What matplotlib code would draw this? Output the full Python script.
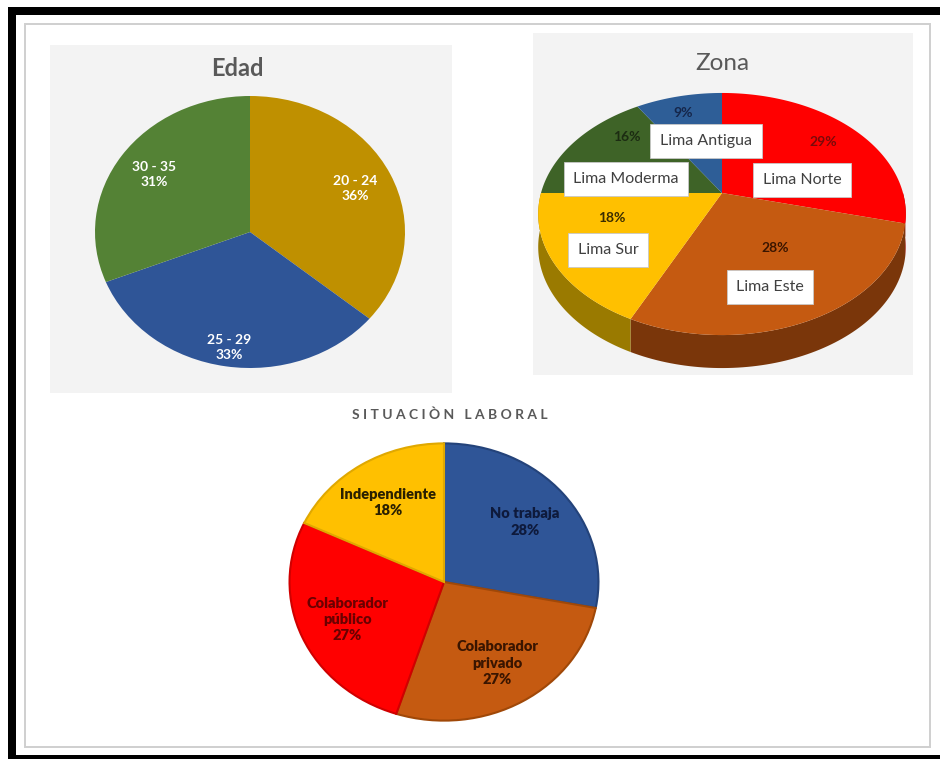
import numpy as np
import matplotlib.pyplot as plt
from matplotlib.patches import Rectangle

W, H = 940, 759

# --- datos ---
edad_labels = ['20 - 24', '25 - 29', '30 - 35']
edad_pct = [36, 33, 31]

zona_labels = ['Lima Norte', 'Lima Este', 'Lima Sur', 'Lima Moderma', 'Lima Antigua']
zona_pct = [29, 28, 18, 16, 9]

lab_labels = ['No trabaja', 'Colaborador\nprivado', 'Colaborador\npúblico', 'Independiente']
lab_pct = [28, 27, 27, 18]

# --- colores ---
edad_colors = ['#BF9000', '#2F5597', '#548235']
zona_colors = ['#FF0000', '#C55A11', '#FFC000', '#3E6327', '#2E5E97']
zona_side = ['#A80000', '#7A360A', '#9A7A00', '#2A4419', '#1E3F66']
zona_txt = ['#7A0A0A', '#3A1500', '#3A2C00', '#1C2C12', '#15264A']
lab_colors = ['#2F5597', '#C55A11', '#FF0000', '#FFC000']
lab_edges = ['#24437A', '#A04808', '#D00000', '#E0A800']
lab_txt = ['#0E1A3C', '#3A1500', '#6A0000', '#2A2000']

TITLE = '#595959'
SANS = ['Lato', 'DejaVu Sans']

fig = plt.figure(figsize=(W / 100, H / 100), dpi=100)


def px_axes(x0, y0, x1, y1):
    # ejes ubicados en pixeles (origen arriba a la izquierda)
    return fig.add_axes([x0 / W, 1 - y1 / H, (x1 - x0) / W, (y1 - y0) / H])


# marco y paneles
bg = px_axes(0, 0, W, H)
bg.set_xlim(0, W)
bg.set_ylim(H, 0)
bg.axis('off')
bg.add_patch(Rectangle((8, 7), W - 8, 8, color='black', lw=0))
bg.add_patch(Rectangle((8, 7), 8, H - 7, color='black', lw=0))
bg.add_patch(Rectangle((8, 755), W - 8, 4, color='black', lw=0))
bg.add_patch(Rectangle((25, 24), 905, 723, fill=False, ec='#CFCFCF', lw=1.4))
bg.add_patch(Rectangle((50, 45), 402, 348, color='#F3F3F3', lw=0))
bg.add_patch(Rectangle((533, 33), 380, 342, color='#F3F3F3', lw=0))

# ---------------- Edad ----------------
bg.text(237, 68, 'Edad', ha='center', va='center', fontsize=17,
        fontweight='bold', color=TITLE, family=SANS)

ax1 = px_axes(95, 96, 405, 368)
w1, _ = ax1.pie(edad_pct, colors=edad_colors, startangle=90, counterclock=False,
                wedgeprops=dict(lw=0))
ax1.set_aspect('auto')
ax1.set_xlim(-1, 1)
ax1.set_ylim(-1, 1)
ax1.axis('off')
edad_dist = [0.75, 0.86, 0.75]
for w, name, p, r in zip(w1, edad_labels, edad_pct, edad_dist):
    a = np.deg2rad((w.theta1 + w.theta2) / 2)
    ax1.text(r * np.cos(a), r * np.sin(a), f'{name}\n{p}%', ha='center', va='center',
             color='white', fontsize=10, fontweight='bold', family=SANS,
             linespacing=1.35)

# ---------------- Zona (3D) ----------------
bg.text(722, 63, 'Zona', ha='center', va='center', fontsize=17.5,
        color=TITLE, family=SANS)

zax = px_axes(533, 33, 913, 375)
zax.set_xlim(533, 913)
zax.set_ylim(375, 33)
zax.axis('off')

CX, CY, SX, SY, K, DEPTH = 722, 193, 181, 117.4, 0.1736, 33


def rim(t):
    # borde del disco visto en perspectiva
    u, v = np.cos(t), np.sin(t)
    d = 1 + K * v
    return CX + SX * u / d, CY - SY * v / d


edges = 90 - 360 * np.concatenate([[0], np.cumsum(zona_pct)]) / sum(zona_pct)
for i in range(len(zona_pct)):
    a0, a1 = edges[i], edges[i + 1]
    # cara lateral (solo la mitad delantera)
    lo, hi = max(a1, -180), min(a0, 0)
    if hi > lo:
        t = np.deg2rad(np.linspace(hi, lo, 80))
        x, y = rim(t)
        zax.fill(np.r_[x, x[::-1]], np.r_[y, y[::-1] + DEPTH],
                 color=zona_side[i], lw=0, zorder=1)
    t = np.deg2rad(np.linspace(a0, a1, 120))
    x, y = rim(t)
    zax.fill(np.r_[CX, x], np.r_[CY, y], color=zona_colors[i], lw=0, zorder=2)

pct_off = [(101, -51), (53, 55), (-110, 25), (-95, -56), (-39, -80)]
box_off = [(80, -13), (48, 94), (-114, 57), (-96, -14), (-16, -52)]
for i, (name, p) in enumerate(zip(zona_labels, zona_pct)):
    dx, dy = pct_off[i]
    zax.text(CX + dx, CY + dy, f'{p}%', ha='center', va='center', fontsize=10,
             fontweight='bold', color=zona_txt[i], family=SANS, zorder=4)
    dx, dy = box_off[i]
    zax.text(CX + dx, CY + dy, name, ha='center', va='center', fontsize=11.5,
             color='#404040', family=SANS, zorder=5,
             bbox=dict(boxstyle='square,pad=0.6', fc='white', ec='#C8C8C8', lw=0.6))

# ---------------- Situacion laboral ----------------
bg.text(450, 415, 'S I T U A C I Ò N   L A B O R A L', ha='center', va='center',
        fontsize=10, fontweight='bold', color=TITLE, family=SANS)

ax3 = px_axes(288, 442, 600, 722)
w3, t3 = ax3.pie(lab_pct, colors=lab_colors, startangle=90, counterclock=False,
                 labels=[f'{n}\n{p}%' for n, p in zip(lab_labels, lab_pct)],
                 labeldistance=0.68,
                 textprops=dict(ha='center', va='center', fontsize=10.5,
                                fontweight='heavy', family=SANS, linespacing=1.3))
for w, ec in zip(w3, lab_edges):
    w.set_edgecolor(ec)
    w.set_linewidth(1.5)
for t, c in zip(t3, lab_txt):
    t.set_color(c)
ax3.set_aspect('auto')
ax3.set_xlim(-1.01, 1.01)
ax3.set_ylim(-1.01, 1.01)
ax3.axis('off')

fig.savefig('out.png', dpi=100)
